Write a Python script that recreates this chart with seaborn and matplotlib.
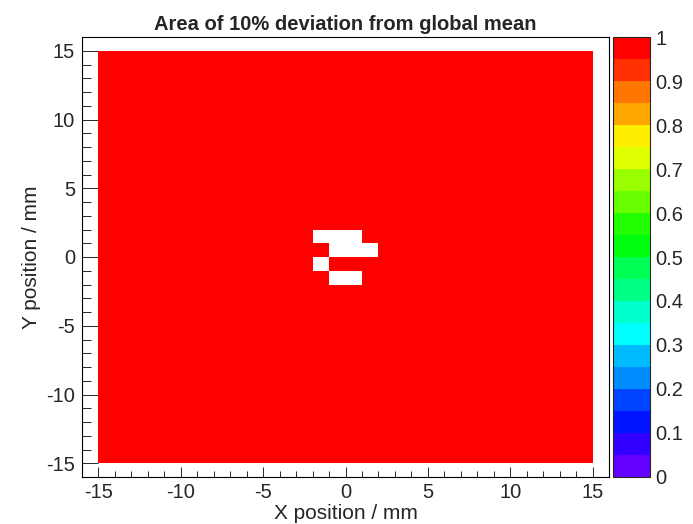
import colorsys
import numpy as np
import pandas as pd
import seaborn as sns
import matplotlib.pyplot as plt
from matplotlib.colors import ListedColormap
from matplotlib.ticker import MultipleLocator

# 1 mm bins from -15 to 15 in both directions
x_edges = np.arange(-15, 16, 1)
y_edges = np.arange(-15, 16, 1)

# lower-left corners of the empty (white) bins near the centre
empty_x = [-2, -1, 0, -1, 0, 1, -2, -1, 0]
empty_y = [1, 1, 1, 0, 0, 0, -1, -2, -2]

fill_value = 1.0

# build bin centres and weights
xc = x_edges[:-1] + 0.5
yc = y_edges[:-1] + 0.5
gx, gy = np.meshgrid(xc, yc, indexing="ij")
w = np.full(gx.shape, fill_value)
for ex, ey in zip(empty_x, empty_y):
    w[ex + 15, ey + 15] = 0.0
df = pd.DataFrame({"x": gx.ravel(), "y": gy.ravel(), "w": w.ravel()})

# ROOT "pretty palette" (50 hues 280 -> 0) sampled at 20 contour levels
n_levels = 20
cols = []
for j in range(n_levels):
    k = int((j + 0.99) * 50 / n_levels)
    hue = 280.0 - (k + 1) * 280.0 / 50
    cols.append(colorsys.hls_to_rgb(max(hue, 0) / 360.0, 0.5, 1.0))
cmap = ListedColormap(cols)

sns.set_style("ticks")
plt.rcParams["font.family"] = ["Liberation Sans", "DejaVu Sans"]
plt.rcParams["axes.unicode_minus"] = False

fig = plt.figure(figsize=(6.93, 5.24), dpi=100)
ax = fig.add_axes([82 / 693, 47 / 524, 527 / 693, 440 / 524])
cax = fig.add_axes([613 / 693, 47.3 / 524, 36.6 / 693, 439.4 / 524])

sns.histplot(data=df, x="x", y="y", weights="w", bins=[x_edges, y_edges],
             cmap=cmap, vmin=0, vmax=1, cbar=True, cbar_ax=cax, ax=ax,
             linewidth=0)

ax.set_xlim(-16, 16)
ax.set_ylim(-16, 16)
ax.set_xticks([-15, -10, -5, 0, 5, 10, 15])
ax.set_yticks([-15, -10, -5, 0, 5, 10, 15])
ax.xaxis.set_minor_locator(MultipleLocator(1))
ax.yaxis.set_minor_locator(MultipleLocator(1))
ax.tick_params(axis="x", which="major", direction="in", length=7.2, width=0.7,
               labelsize=14.5, pad=4.5, top=False)
ax.tick_params(axis="x", which="minor", direction="in", length=4, width=0.7, top=False)
ax.tick_params(axis="y", which="major", direction="in", length=11.5, width=0.7,
               labelsize=14.5, pad=5, right=False)
ax.tick_params(axis="y", which="minor", direction="in", length=6.5, width=0.7, right=False)
for s in ax.spines.values():
    s.set_visible(True)
    s.set_linewidth(0.8)
    s.set_color("black")
    s.set_zorder(5)

ax.set_xlabel("X position / mm", fontsize=15, labelpad=1)
ax.set_ylabel("Y position / mm", fontsize=15, labelpad=4)
ax.set_title("Area of 10% deviation from global mean", fontsize=14.5,
             fontweight="bold", pad=5)

cax.set_yticks(np.round(np.arange(0, 1.01, 0.1), 1))
cax.set_yticklabels(["0", "0.1", "0.2", "0.3", "0.4", "0.5", "0.6", "0.7", "0.8", "0.9", "1"])
cax.tick_params(axis="y", which="both", direction="in", length=14, width=0.7,
                labelsize=14.5, pad=4, right=True, left=False, labelright=True)
cax.minorticks_off()
for s in cax.spines.values():
    s.set_linewidth(0.8)

fig.savefig("out.png", dpi=100)
